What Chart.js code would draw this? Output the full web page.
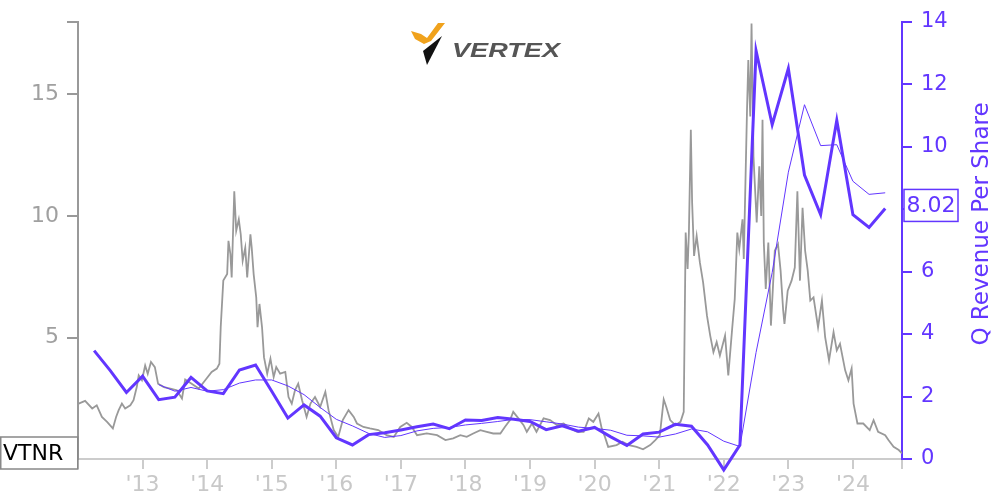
<!DOCTYPE html>
<html>
<head>
<meta charset="utf-8">
<script src="https://cdn.jsdelivr.net/npm/chart.js@4.4.1/dist/chart.umd.min.js"></script>
<style>
html,body{margin:0;padding:0;background:#fff;}
#wrap{width:1000px;height:500px;position:relative;}
</style>
</head>
<body>
<div id="wrap"><canvas id="c" width="1000" height="500"></canvas></div>
<script>
// ---------- data ----------
const ticker = 'VTNR';
const companyName = 'VERTEX';
const rightAxisTitle = 'Q Revenue Per Share';
const xMin = 2012.0;
const xMax = 2024.76;
const yearTicks = [2013, 2014, 2015, 2016, 2017, 2018, 2019, 2020, 2021, 2022, 2023, 2024];
const yearLabels = ["'13", "'14", "'15", "'16", "'17", "'18", "'19", "'20", "'21", "'22", "'23", "'24"];
const priceTicks = [5, 10, 15];
const revTicks = [0, 2, 4, 6, 8, 10, 12, 14];

const priceDates = [2012.01,2012.11,2012.22,2012.29,2012.37,2012.45,2012.54,2012.59,2012.63,2012.68,
2012.73,2012.81,2012.86,2012.91,2012.94,2012.99,2013.04,2013.08,2013.13,2013.19,
2013.24,2013.33,2013.43,2013.53,2013.61,2013.66,2013.76,2013.87,2013.97,2014.07,
2014.15,2014.19,2014.21,2014.25,2014.31,2014.33,2014.36,2014.38,2014.42,2014.45,
2014.49,2014.52,2014.55,2014.59,2014.62,2014.67,2014.69,2014.72,2014.76,2014.78,
2014.81,2014.85,2014.88,2014.93,2014.98,2015.03,2015.07,2015.13,2015.21,2015.26,
2015.31,2015.36,2015.41,2015.47,2015.54,2015.60,2015.67,2015.75,2015.83,2015.88,
2015.96,2016.03,2016.10,2016.19,2016.27,2016.32,2016.42,2016.52,2016.65,2016.78,
2016.89,2016.99,2017.09,2017.17,2017.25,2017.40,2017.56,2017.69,2017.81,2017.92,
2018.02,2018.12,2018.23,2018.33,2018.43,2018.54,2018.61,2018.69,2018.74,2018.82,
2018.90,2018.95,2019.03,2019.10,2019.21,2019.31,2019.42,2019.52,2019.62,2019.73,
2019.83,2019.91,2019.98,2020.06,2020.11,2020.16,2020.21,2020.34,2020.43,2020.53,
2020.65,2020.75,2020.86,2020.94,2021.01,2021.07,2021.11,2021.17,2021.25,2021.33,
2021.38,2021.41,2021.44,2021.46,2021.49,2021.51,2021.54,2021.58,2021.63,2021.68,
2021.74,2021.79,2021.84,2021.89,2021.94,2022.02,2022.07,2022.13,2022.17,2022.21,
2022.24,2022.29,2022.31,2022.36,2022.38,2022.41,2022.43,2022.46,2022.48,2022.51,
2022.55,2022.58,2022.60,2022.62,2022.65,2022.69,2022.73,2022.76,2022.79,2022.84,
2022.88,2022.92,2022.94,2022.99,2023.05,2023.10,2023.14,2023.18,2023.22,2023.26,
2023.30,2023.34,2023.39,2023.46,2023.52,2023.57,2023.63,2023.70,2023.75,2023.80,
2023.88,2023.93,2023.98,2024.01,2024.07,2024.16,2024.26,2024.32,2024.39,2024.50,
2024.55,2024.63,2024.71,2024.76];

const priceValues = [2.28,2.39,2.08,2.21,1.73,1.53,1.26,1.73,2.01,2.28,
2.08,2.21,2.42,2.96,3.44,3.24,3.85,3.51,3.99,3.78,
3.10,2.96,2.90,2.83,2.49,3.27,3.10,2.90,3.24,3.58,
3.72,3.92,5.42,7.34,7.61,8.98,8.43,7.47,11.02,9.39,
9.86,9.25,8.16,8.70,7.47,9.25,8.70,7.61,6.65,5.42,
6.38,5.42,4.19,3.51,4.13,3.37,3.78,3.51,3.58,2.55,
2.28,2.83,3.10,2.42,1.73,2.28,2.55,2.14,2.76,2.01,
1.19,0.91,1.60,2.01,1.73,1.46,1.32,1.26,1.19,0.98,
0.91,1.32,1.49,1.32,0.98,1.05,0.98,0.78,0.85,0.98,
0.91,1.05,1.19,1.12,1.05,1.05,1.32,1.60,1.94,1.67,
1.39,1.12,1.46,1.12,1.67,1.60,1.39,1.46,1.26,1.12,
1.12,1.67,1.53,1.87,1.26,0.91,0.50,0.57,0.71,0.57,
0.50,0.40,0.57,0.78,0.98,2.45,2.14,1.60,1.39,1.53,
1.94,9.32,7.82,9.32,13.55,10.55,8.36,9.18,8.09,7.27,
5.90,5.08,4.40,4.81,4.26,5.08,3.44,5.36,6.59,9.32,
8.64,9.86,8.23,14.37,16.42,14.10,17.92,12.46,11.37,9.73,
12.05,10.00,13.96,8.91,7.00,8.91,5.49,7.00,8.57,8.84,
7.75,6.11,5.56,6.93,7.34,7.88,11.02,7.34,10.34,8.57,
7.75,6.52,6.65,5.42,6.52,5.01,4.06,5.22,4.47,4.74,
3.65,3.24,3.72,2.28,1.46,1.46,1.19,1.60,1.12,0.98,
0.78,0.50,0.37,0.23];

const revDates = [2012.25,2012.50,2012.75,2013.00,2013.25,2013.50,2013.75,2014.00,2014.25,2014.50,
2014.75,2015.00,2015.25,2015.50,2015.75,2016.00,2016.25,2016.50,2016.75,2017.00,
2017.25,2017.50,2017.75,2018.00,2018.25,2018.50,2018.75,2019.00,2019.25,2019.50,
2019.75,2020.00,2020.25,2020.50,2020.75,2021.00,2021.25,2021.50,2021.75,2022.00,
2022.25,2022.50,2022.75,2023.00,2023.25,2023.50,2023.75,2024.00,2024.25,2024.50];
const revValues = [3.47,2.83,2.13,2.65,1.90,1.98,2.61,2.18,2.09,2.85,
3.01,2.17,1.31,1.73,1.37,0.68,0.45,0.78,0.84,0.93,
1.03,1.12,0.97,1.25,1.23,1.33,1.27,1.20,0.94,1.06,
0.89,1.01,0.71,0.43,0.80,0.86,1.11,1.05,0.45,-0.35,
0.45,13.07,10.70,12.50,9.09,7.82,10.84,7.82,7.41,8.02];

const revAvgDates = [2013.25,2013.50,2013.75,2014.00,2014.25,2014.50,2014.75,2015.00,2015.25,2015.50,
2015.75,2016.00,2016.25,2016.50,2016.75,2017.00,2017.25,2017.50,2017.75,2018.00,
2018.25,2018.50,2018.75,2019.00,2019.25,2019.50,2019.75,2020.00,2020.25,2020.50,
2020.75,2021.00,2021.25,2021.50,2021.75,2022.00,2022.25,2022.50,2022.75,2023.00,
2023.25,2023.50,2023.75,2024.00,2024.25,2024.50];
const revAvgValues = [2.38,2.17,2.29,2.17,2.22,2.43,2.53,2.53,2.34,2.06,
1.65,1.27,1.06,0.82,0.69,0.75,0.90,0.98,1.01,1.09,
1.14,1.20,1.27,1.26,1.19,1.12,1.02,0.98,0.92,0.76,
0.74,0.70,0.80,0.96,0.87,0.57,0.40,3.41,5.97,9.18,
11.34,10.03,10.06,8.89,8.47,8.52];

// ---------- styles ----------
const PURPLE = '#6236ff';
const GRAY_LINE = '#999999';
const FONT = '"DejaVu Sans", "Noto Sans", sans-serif';

function pairs(xs, ys) { return xs.map((x, i) => ({ x: x, y: ys[i] })); }

const overlay = {
  id: 'overlay',
  afterDraw(chart) {
    const ctx = chart.ctx;
    const y1 = chart.scales.y1;
    ctx.save();

    // logo
    ctx.fillStyle = '#f0a21c';
    ctx.beginPath();
    ctx.moveTo(411, 31); ctx.lineTo(421, 34); ctx.lineTo(427, 38);
    ctx.lineTo(438, 23); ctx.lineTo(445, 23); ctx.lineTo(431, 41);
    ctx.lineTo(424, 44); ctx.lineTo(415, 39);
    ctx.closePath(); ctx.fill();
    ctx.fillStyle = '#111111';
    ctx.beginPath();
    ctx.moveTo(423, 51); ctx.lineTo(442, 36); ctx.lineTo(427, 65);
    ctx.closePath(); ctx.fill();
    ctx.save();
    ctx.fillStyle = '#555555';
    ctx.font = 'italic bold 21px "Liberation Sans", sans-serif';
    const w = ctx.measureText(companyName).width;
    ctx.translate(452, 57);
    ctx.scale(108 / w, 1);
    ctx.textBaseline = 'alphabetic';
    ctx.fillText(companyName, 0, 0);
    ctx.restore();

    // ticker box
    ctx.fillStyle = '#ffffff';
    ctx.fillRect(0.5, 437, 77, 32);
    ctx.strokeStyle = '#888888';
    ctx.lineWidth = 1.5;
    ctx.strokeRect(0.75, 437, 77, 32);
    ctx.fillStyle = '#000000';
    ctx.font = '22px ' + FONT;
    ctx.textBaseline = 'middle';
    ctx.textAlign = 'left';
    ctx.fillText(ticker, 3, 454);

    // last value box
    const last = revValues[revValues.length - 1];
    const py = y1.getPixelForValue(last) - 3;
    ctx.fillStyle = '#ffffff';
    ctx.fillRect(904, py - 16, 54, 32);
    ctx.strokeStyle = PURPLE;
    ctx.lineWidth = 1.5;
    ctx.strokeRect(904, py - 16, 54, 32);
    ctx.fillStyle = PURPLE;
    ctx.font = '22px ' + FONT;
    ctx.textAlign = 'center';
    ctx.fillText(last.toFixed(2), 931, py + 1);

    // right axis title
    ctx.save();
    ctx.translate(982, 224);
    ctx.rotate(-Math.PI / 2);
    ctx.font = '23px ' + FONT;
    ctx.fillStyle = PURPLE;
    ctx.textAlign = 'center';
    ctx.textBaseline = 'middle';
    ctx.fillText(rightAxisTitle, 0, 0);
    ctx.restore();

    ctx.restore();
  }
};

Chart.defaults.font.family = FONT;

new Chart(document.getElementById('c'), {
  type: 'line',
  data: {
    datasets: [
      { label: 'Price', data: pairs(priceDates, priceValues), yAxisID: 'y', borderColor: GRAY_LINE,
        borderWidth: 1.8, pointRadius: 0, tension: 0, order: 3 },
      { label: 'Avg', data: pairs(revAvgDates, revAvgValues), yAxisID: 'y1', borderColor: PURPLE,
        borderWidth: 1, pointRadius: 0, tension: 0, order: 2, clip: false },
      { label: 'Q Revenue Per Share', data: pairs(revDates, revValues), yAxisID: 'y1', borderColor: PURPLE,
        borderWidth: 3, pointRadius: 0, tension: 0, order: 1, clip: false, borderJoinStyle: 'miter' }
    ]
  },
  options: {
    responsive: false,
    animation: false,
    devicePixelRatio: 1,
    layout: { padding: { top: 19, left: 0, right: 0, bottom: 0 } },
    plugins: { legend: { display: false }, tooltip: { enabled: false } },
    scales: {
      x: {
        type: 'linear', min: xMin, max: xMax,
        afterBuildTicks: (s) => { s.ticks = [{ value: xMin }].concat(yearTicks.map(v => ({ value: v })), [{ value: xMax }]); },
        afterFit: (s) => { s.height = 41; },
        ticks: {
          autoSkip: false, maxRotation: 0, color: '#c8c8c8', padding: 3,
          font: { size: 22 },
          callback: (v) => { const i = yearTicks.indexOf(v); return i >= 0 ? yearLabels[i] : ''; }
        },
        grid: { drawOnChartArea: false, drawTicks: true, tickLength: 10, color: '#cccccc', lineWidth: 2 },
        border: { color: '#cccccc', width: 2 }
      },
      y: {
        position: 'left', min: 0, max: 18,
        afterBuildTicks: (s) => { s.ticks = [0].concat(priceTicks, [18]).map(v => ({ value: v })); },
        afterFit: (s) => { s.width = 78; },
        ticks: {
          color: '#a0a0a0', padding: 8, font: { size: 22 },
          callback: (v) => priceTicks.includes(v) ? String(v) : ''
        },
        grid: { drawOnChartArea: false, drawTicks: true, tickLength: 11, color: '#999999', lineWidth: 2 },
        border: { color: '#999999', width: 2 }
      },
      y1: {
        position: 'right', min: 0, max: 14,
        afterBuildTicks: (s) => { s.ticks = revTicks.map(v => ({ value: v })); },
        afterFit: (s) => { s.width = 98; },
        ticks: { color: PURPLE, padding: 9, font: { size: 21 } },
        grid: { drawOnChartArea: false, drawTicks: true, tickLength: 10, color: PURPLE, lineWidth: 2 },
        border: { color: PURPLE, width: 2 }
      }
    }
  },
  plugins: [overlay]
});
</script>
</body>
</html>
